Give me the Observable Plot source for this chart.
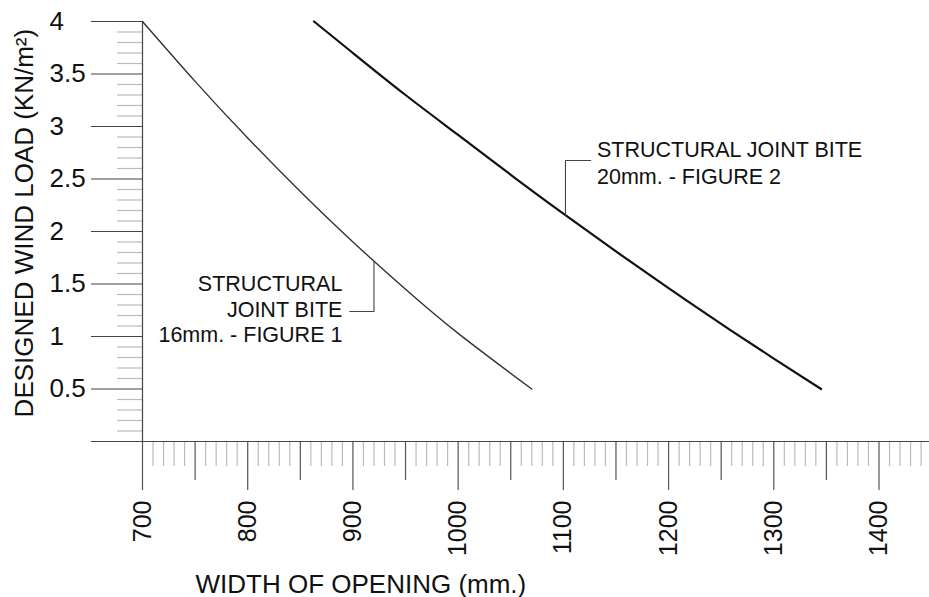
<!DOCTYPE html>
<html>
<head>
<meta charset="utf-8">
<script src="https://cdn.jsdelivr.net/npm/d3@7"></script>
<script src="https://cdn.jsdelivr.net/npm/@observablehq/plot@0.6"></script>
<style>
  html, body { margin: 0; padding: 0; background: #fff; }
</style>
</head>
<body>
<div id="chart"></div>
<script>
// ---- Data ----
const fig1Width = [700, 750, 800, 850, 900, 950, 1000, 1070];
const fig1Load  = [4.0, 3.43, 2.89, 2.38, 1.90, 1.45, 1.03, 0.5];

const fig2Width = [863, 900, 950, 1000, 1050, 1100, 1150, 1200, 1250, 1300, 1345];
const fig2Load  = [4.0, 3.70, 3.30, 2.92, 2.54, 2.17, 1.81, 1.46, 1.12, 0.79, 0.5];

// axis ticks
const xTickLabels = [700, 800, 900, 1000, 1100, 1200, 1300, 1400];
const xMidTicks   = [750, 850, 950, 1050, 1150, 1250, 1350];
const yTickValues = [0, 0.5, 1, 1.5, 2, 2.5, 3, 3.5, 4];
const yTickLabels = ["", "0.5", "1", "1.5", "2", "2.5", "3", "3.5", "4"];

const xTitle = "WIDTH OF OPENING (mm.)";
const yTitle = "DESIGNED WIND LOAD (KN/m²)";

// annotations (text lines and leader anchors, in data units)
const fig1Lines  = ["STRUCTURAL", "JOINT BITE", "16mm. - FIGURE 1"];
const fig1LineY  = [1.5, 1.255, 1.01];
const fig1TextX  = 890;
const fig1LeaderX = [897, 920, 920];
const fig1LeaderY = [1.238, 1.238, 1.717];

const fig2Lines  = ["STRUCTURAL JOINT BITE", "20mm. - FIGURE 2"];
const fig2LineY  = [2.771, 2.518];
const fig2TextX  = 1132;
const fig2LeaderX = [1102, 1102, 1126];
const fig2LeaderY = [2.155, 2.676, 2.676];

// ---- Layout ----
const W = 929, H = 597;
const mL = 142, mR = 0, mT = 21, mB = 156;
const xDomain = [700, 1448], yDomain = [0, 4];
const pxPerX = (W - mL - mR) / (xDomain[1] - xDomain[0]);
const pxPerY = (H - mT - mB) / (yDomain[1] - yDomain[0]);
const tickDown = px => -px / pxPerY;             // offset below the x axis, in y units
const tickLeft = px => xDomain[0] - px / pxPerX; // offset left of the y axis, in x units

// ---- Build tables ----
const fig1 = fig1Width.map((w, i) => ({w, load: fig1Load[i]}));
const fig2 = fig2Width.map((w, i) => ({w, load: fig2Load[i]}));
const lead1 = fig1LeaderX.map((x, i) => ({x, y: fig1LeaderY[i]}));
const lead2 = fig2LeaderX.map((x, i) => ({x, y: fig2LeaderY[i]}));
const ann1 = fig1Lines.map((t, i) => ({t, y: fig1LineY[i]}));
const ann2 = fig2Lines.map((t, i) => ({t, y: fig2LineY[i]}));
const yTicks = yTickValues.map((v, i) => ({v, label: yTickLabels[i]}));

const xMinor = d3.range(700, 1448, 10).filter(v => v % 50 !== 0);
const yMinor = d3.range(1, 40).map(v => v / 10).filter(v => Math.round(v * 10) % 5 !== 0);

const font = "Arial, 'Liberation Sans', sans-serif";

const chart = Plot.plot({
  width: W,
  height: H,
  marginLeft: mL,
  marginRight: mR,
  marginTop: mT,
  marginBottom: mB,
  style: {fontFamily: font, background: "#fff", color: "#111", overflow: "visible"},
  x: {domain: xDomain, axis: null},
  y: {domain: yDomain, axis: null},
  marks: [
    // x ticks
    Plot.ruleX(xMinor, {x: d => d, y1: 0, y2: tickDown(25), stroke: "#bbb", strokeWidth: 1.2}),
    Plot.ruleX(xMidTicks, {x: d => d, y1: 0, y2: tickDown(39), stroke: "#555", strokeWidth: 1.2}),
    Plot.ruleX(xTickLabels, {x: d => d, y1: 0, y2: tickDown(49), stroke: "#555", strokeWidth: 1.2}),
    // y ticks
    Plot.ruleY(yMinor, {y: d => d, x1: tickLeft(25), x2: xDomain[0], stroke: "#bbb", strokeWidth: 1.2}),
    Plot.ruleY(yTickValues, {y: d => d, x1: tickLeft(51), x2: xDomain[0], stroke: "#444", strokeWidth: 1.2}),
    // axis lines
    Plot.ruleX([xDomain[0]], {y1: yDomain[0], y2: yDomain[1], stroke: "#444", strokeWidth: 1.2}),
    Plot.ruleY([yDomain[0]], {x1: xDomain[0], x2: xDomain[1], stroke: "#444", strokeWidth: 1.2}),
    // tick labels
    Plot.text(xTickLabels, {
      x: d => d, y: () => tickDown(59), rotate: -90,
      textAnchor: "end", lineAnchor: "middle", fontSize: 25, fill: "#111",
      text: d => String(d)
    }),
    Plot.text(yTicks, {
      y: "v", x: () => tickLeft(93), text: "label",
      textAnchor: "start", lineAnchor: "middle", fontSize: 26, fill: "#111"
    }),
    // axis titles
    Plot.text([xTitle], {
      x: () => tickLeft(-53), y: () => tickDown(143), textAnchor: "start",
      lineAnchor: "middle", fontSize: 26, fill: "#111"
    }),
    Plot.text([yTitle], {
      x: () => tickLeft(118), y: () => 2.08, rotate: -90,
      textAnchor: "middle", lineAnchor: "middle", fontSize: 26, fill: "#111"
    }),
    // curves
    Plot.line(fig1, {x: "w", y: "load", curve: "natural", stroke: "#333", strokeWidth: 1.4}),
    Plot.line(fig2, {x: "w", y: "load", curve: "natural", stroke: "#111", strokeWidth: 2.2}),
    // leaders
    Plot.line(lead1, {x: "x", y: "y", stroke: "#444", strokeWidth: 1.1}),
    Plot.line(lead2, {x: "x", y: "y", stroke: "#444", strokeWidth: 1.1}),
    // annotations
    Plot.text(ann1, {x: () => fig1TextX, y: "y", text: "t", textAnchor: "end",
      lineAnchor: "middle", fontSize: 21.5, fill: "#111"}),
    Plot.text(ann2, {x: () => fig2TextX, y: "y", text: "t", textAnchor: "start",
      lineAnchor: "middle", fontSize: 21.5, fill: "#111"})
  ]
});

document.getElementById("chart").appendChild(chart);
</script>
</body>
</html>
